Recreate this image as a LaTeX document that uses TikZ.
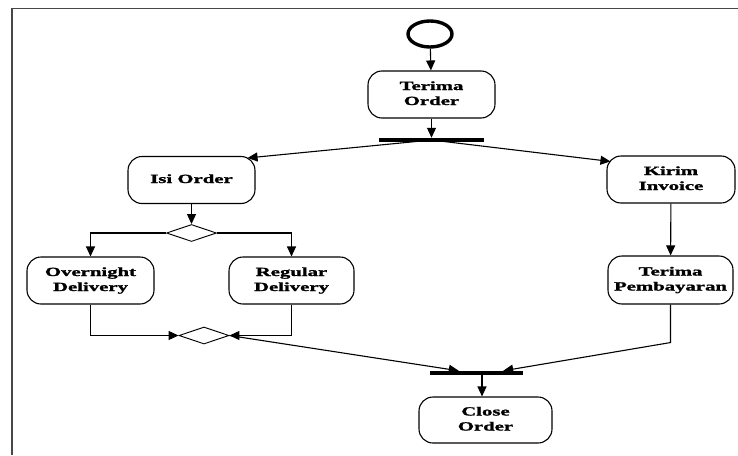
\documentclass[tikz,border=0pt]{standalone}
\usepackage{fontspec}
\setmainfont{Liberation Serif}[BoldFeatures={FakeBold=1.2}]
\usetikzlibrary{arrows.meta,shapes.geometric}
% wide, bold activity label; lines separated by \\
\newcommand{\widelabel}[1]{\scalebox{1.66}[1]{\begin{tabular}{@{}c@{}}#1\end{tabular}}}
\begin{document}
\begin{tikzpicture}[x=1pt,y=-1pt,
  activity/.style={draw,line width=1.1pt,rounded corners=14pt,align=center,
    minimum width=127pt,minimum height=47pt,inner sep=0pt,
    font=\fontsize{12.5}{15}\selectfont\bfseries},
  decision/.style={draw,diamond,line width=0.9pt,minimum width=50pt,
    minimum height=17pt,inner sep=0pt,aspect=3},
  syncbar/.style={fill=black,inner sep=0pt,minimum height=4pt},
  flow/.style={line width=1.1pt,-{Triangle[length=10pt,width=9pt]}}]
\useasboundingbox (0,0) rectangle (738,455);
% frame lines
\draw[line width=1.6pt,black!72] (12,455) -- (12,8.5) -- (738,8.5);

% start state
\node[draw,ellipse,line width=3.4pt,minimum width=44pt,minimum height=26pt,inner sep=0pt] (start) at (430,34) {};

% activities
\node[activity] (terima) at (431.5,94.5) {\widelabel{Terima\\Order}};
\node[activity] (isi) at (191.5,180) {\widelabel{Isi Order}};
\node[activity,minimum width=128pt] (kirim) at (671,179.5) {\widelabel{Kirim\\Invoice}};
\node[activity] (over) at (90.5,280.5) {\widelabel{Overnight\\Delivery}};
\node[activity,minimum width=125pt] (reg) at (291.5,280.5) {\widelabel{Regular\\Delivery}};
\node[activity,minimum width=125pt,minimum height=48pt] (bayar) at (670.5,280) {\widelabel{Terima\\Pembayaran}};
\node[activity,minimum width=133pt,minimum height=46pt] (close) at (485.5,420) {\widelabel{Close\\Order}};

% fork / join bars and decisions
\node[syncbar,minimum width=105pt] (fork) at (431.5,140) {};
\node[syncbar,minimum width=93pt] (join) at (476.5,373) {};
\node[decision] (d1) at (191.5,233) {};
\node[decision] (d2) at (204,335.5) {};

% flows
\draw[flow] (start) -- (terima);
\draw[flow] (terima) -- (fork.north -| terima.south);
\draw[flow] (fork.center) -- ([xshift=-8pt,yshift=-2pt]isi.north east);
\draw[flow] (fork.center) -- ([xshift=4pt,yshift=-6pt]kirim.north west);
\draw[flow] (isi) -- (d1);
\draw[flow] (d1.west) -| (over.north);
\draw[flow] (d1.east) -| (reg.north);
\draw[flow] (over.south) |- (d2.west);
\draw[flow] (reg.south) |- (d2.east);
\draw[flow] (kirim) -- (bayar);
\draw[flow] (d2.east) -- ([xshift=29pt]join.north west);
\draw[flow] (bayar.south) -- ++(0,38) -- ([xshift=-20pt]join.north east);
\draw[flow] (join.south -| 482,0) -- (close.north -| 482,0);
\end{tikzpicture}
\end{document}
